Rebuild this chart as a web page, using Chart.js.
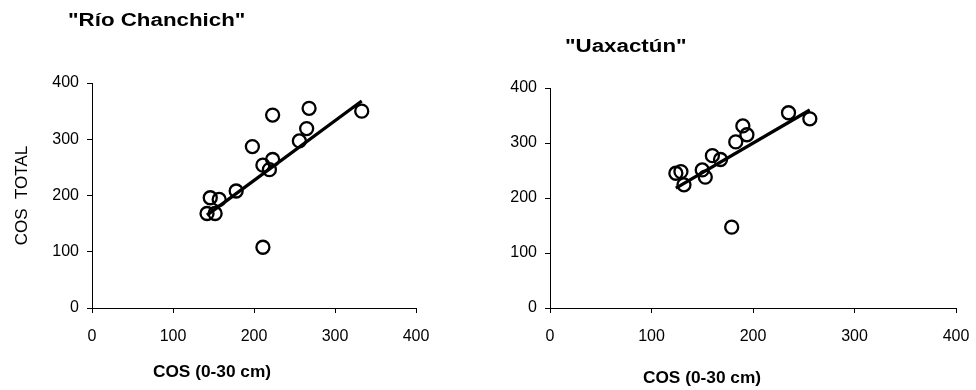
<!DOCTYPE html>
<html>
<head>
<meta charset="utf-8">
<script src="https://cdn.jsdelivr.net/npm/chart.js@4/dist/chart.umd.min.js"></script>
<style>
  html, body { margin: 0; padding: 0; background: #fff; }
  body { width: 976px; height: 390px; position: relative; overflow: hidden;
         font-family: "Liberation Sans", Arial, sans-serif; color: #000; }
  .panel { position: absolute; top: 0; width: 488px; height: 390px; }
  .title { position: absolute; font-weight: bold; font-size: 18px; white-space: nowrap;
           transform-origin: left center; transform: scaleX(1.24); line-height: 1; }
  .xtitle { position: absolute; font-weight: bold; font-size: 16px; white-space: nowrap;
            line-height: 1; transform: translateX(-50%) scaleX(1.08); }
</style>
</head>
<body>
<div class="panel" style="left:0"><canvas id="rio" width="488" height="390"></canvas></div>
<div class="panel" style="left:488px"><canvas id="uax" width="488" height="390"></canvas></div>
<div class="title" style="left:68px;top:11px">"Río Chanchich"</div>
<div class="title" style="left:565px;top:37px">"Uaxactún"</div>
<div class="xtitle" style="left:212px;top:364px">COS (0-30 cm)</div>
<div class="xtitle" style="left:702px;top:370px">COS (0-30 cm)</div>
<script>
// Axis ticks shared by both panels
const tickValues = [0, 100, 200, 300, 400];

// Río Chanchich: COS 0-30 cm vs COS total
const rioCos30 = [142, 152, 146, 157, 178, 198, 211, 219, 223, 211, 223, 256, 265, 268, 333];
const rioCosTotal = [168, 168, 196, 193, 208, 287, 254, 246, 264, 108, 343, 297, 319, 355, 350];
const rioFitX = [142, 333];
const rioFitY = [165, 368];

// Uaxactún: COS 0-30 cm vs COS total
const uaxCos30 = [124, 129, 132, 150, 153, 160, 168, 179, 183, 190, 194, 235, 256];
const uaxCosTotal = [245, 248, 224, 251, 238, 277, 270, 147, 302, 331, 315, 355, 344];
const uaxFitX = [124, 256];
const uaxFitY = [218, 360];

const pairs = (xs, ys) => xs.map((x, i) => ({ x: x, y: ys[i] }));
const tickFont = { family: '"Liberation Sans", Arial, sans-serif', size: 16 };

function makeChart(id, xs, ys, fx, fy, opts) {
  return new Chart(document.getElementById(id), {
    type: 'scatter',
    data: {
      datasets: [
        {
          data: pairs(xs, ys),
          pointStyle: 'circle',
          pointRadius: 6.5,
          pointBorderWidth: 2.3,
          borderColor: '#000',
          backgroundColor: 'rgba(0,0,0,0)',
          showLine: false
        },
        {
          data: pairs(fx, fy),
          showLine: true,
          pointRadius: 0,
          borderColor: '#000',
          borderWidth: 3.3,
          fill: false
        }
      ]
    },
    options: {
      responsive: false,
      animation: false,
      layout: { padding: { top: opts.top, right: opts.right, left: 0, bottom: 0 } },
      plugins: { legend: { display: false }, tooltip: { enabled: false } },
      scales: {
        x: {
          type: 'linear', min: 0, max: 400,
          afterBuildTicks: s => { s.ticks = tickValues.map(v => ({ value: v })); },
          afterFit: s => { s.height = 82; s.paddingRight = 0; },
          ticks: { color: '#000', font: tickFont, padding: 14, maxRotation: 0 },
          grid: { display: true, drawOnChartArea: false, drawTicks: true, tickLength: 5, color: '#000', lineWidth: 1 },
          border: { display: true, color: '#000', width: 1 }
        },
        y: {
          type: 'linear', min: 0, max: 400,
          afterBuildTicks: s => { s.ticks = tickValues.map(v => ({ value: v })); },
          afterFit: s => { s.width = opts.yWidth; },
          ticks: { color: '#000', font: tickFont, padding: 8 },
          grid: { display: true, drawOnChartArea: false, drawTicks: true, tickLength: 5, color: '#000', lineWidth: 1 },
          border: { display: true, color: '#000', width: 1 },
          title: {
            display: opts.yTitle !== '',
            text: opts.yTitle,
            color: '#000',
            font: { family: '"Liberation Sans", Arial, sans-serif', size: 17, weight: 'normal' },
            padding: { top: 12, bottom: 0 }
          }
        }
      }
    }
  });
}

makeChart('rio', rioCos30, rioCosTotal, rioFitX, rioFitY, { top: 83, right: 72, yWidth: 92, yTitle: 'COS  TOTAL' });
makeChart('uax', uaxCos30, uaxCosTotal, uaxFitX, uaxFitY, { top: 88, right: 20, yWidth: 62, yTitle: '' });
</script>
</body>
</html>
